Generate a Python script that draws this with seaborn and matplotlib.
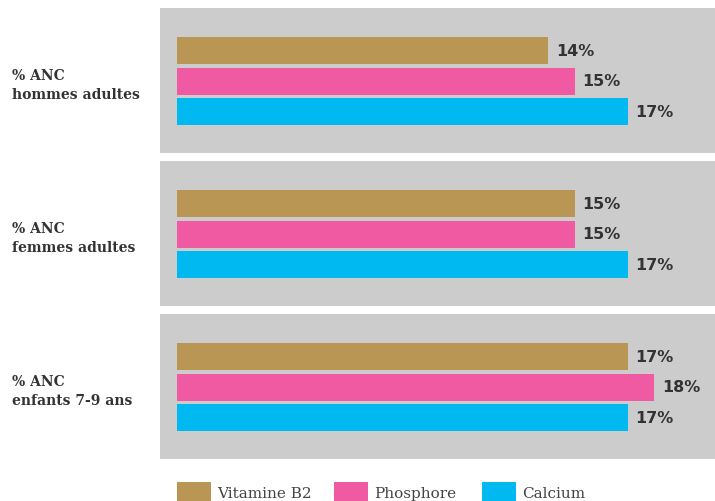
import matplotlib
matplotlib.use("Agg")
import matplotlib.pyplot as plt
import seaborn as sns
import pandas as pd
from matplotlib.patches import Rectangle

groups = ["hommes adultes", "femmes adultes", "enfants 7-9 ans"]
nutrients = ["Vitamine B2", "Phosphore", "Calcium"]
values = {
    "hommes adultes": [14, 15, 17],
    "femmes adultes": [15, 15, 17],
    "enfants 7-9 ans": [17, 18, 17],
}
colors = ["#b99653", "#ef5aa2", "#00b9f1"]

sns.set_theme(style="white")
plt.rcParams["font.family"] = ["DejaVu Sans"]

W, H = 715, 502
fig = plt.figure(figsize=(W / 100, H / 100), dpi=100)

panel_tops = [9, 162, 315]
panel_h = 145
px_per_unit = 26.5
zero_px = 177
left_px, right_px = 160, 715
bar_center_offset = 42.5  # px from panel top to first bar center
bar_step = 30.5

for i, g in enumerate(groups):
    top = panel_tops[i]
    ax = fig.add_axes([left_px / W, 1 - (top + panel_h) / H,
                       (right_px - left_px) / W, panel_h / H])
    ax.set_facecolor("#cccccc")
    df = pd.DataFrame({"nutrient": nutrients, "value": values[g]})
    sns.barplot(data=df, x="value", y="nutrient", hue="nutrient",
                palette=colors, hue_order=nutrients, order=nutrients,
                width=27 / bar_step, legend=False, ax=ax, saturation=1,
                linewidth=0, edgecolor="none")
    ax.set_xlim((left_px - zero_px) / px_per_unit, (right_px - zero_px) / px_per_unit)
    y_top = -bar_center_offset / bar_step
    y_bot = (panel_h - bar_center_offset) / bar_step
    ax.set_ylim(y_bot, y_top)
    for j, v in enumerate(values[g]):
        ax.text(v + 8 / px_per_unit, j, f"{v}%", va="center", ha="left",
                fontsize=11.5, fontweight="semibold", color="#333333")
    ax.set_xticks([])
    ax.set_yticks([])
    ax.set_xlabel("")
    ax.set_ylabel("")
    for s in ax.spines.values():
        s.set_visible(False)
    # group label
    cy = top + 76
    fig.text(12 / W, 1 - (cy - 9) / H, "% ANC", fontsize=10, fontweight="bold",
             family="DejaVu Serif", color="#333333", va="center", ha="left")
    fig.text(12 / W, 1 - (cy + 10) / H, g, fontsize=10, fontweight="bold",
             family="DejaVu Serif", color="#333333", va="center", ha="left")

# legend
leg_x = [177, 334, 482]
for k, (n, c) in enumerate(zip(nutrients, colors)):
    fig.add_artist(Rectangle((leg_x[k] / W, 1 - 505 / H), 34 / W, 22 / H,
                             transform=fig.transFigure, color=c, clip_on=False,
                             linewidth=0))
    fig.text((leg_x[k] + 40) / W, 1 - 494 / H, n, fontsize=11,
             family="DejaVu Serif", color="#444444", va="center", ha="left")

fig.savefig("out.png", dpi=100, facecolor="white")
